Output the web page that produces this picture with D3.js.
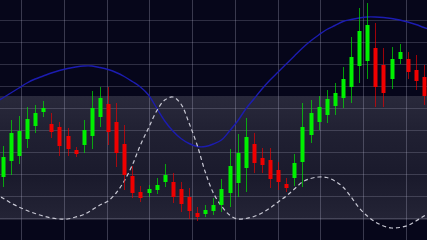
<!DOCTYPE html>
<html>
<head>
<meta charset="utf-8">
<script src="https://cdn.jsdelivr.net/npm/d3@7"></script>
<style>
  html, body { margin: 0; padding: 0; background: #06061a; overflow: hidden; }
  svg { display: block; }
</style>
</head>
<body>
<script>
// candle values: open / high / low / close
const opens  = [31.5, 39.5, 42, 50.5, 57, 64, 58, 56.5, 52, 45, 47.5, 52, 61.5, 68, 59, 48, 32, 24, 23.5, 25, 29, 29, 25.5, 21.5, 13.5, 13, 14.5, 17.5, 23.5, 28.5, 36, 48, 41, 40, 35, 28, 31, 39, 52.5, 59, 62.5, 67, 71, 76.5, 87, 89.5, 96, 87.5, 80.5, 90.5, 90.5, 85, 81.5]
const highs  = [47, 60, 62, 66.5, 67.5, 69.5, 63.5, 59, 56, 46.5, 60, 74.5, 76.5, 76.5, 68.5, 57.5, 37, 27, 27.5, 31, 38, 33.5, 29, 26, 16.5, 17.5, 21, 30.5, 45.5, 53, 61, 53.5, 46, 46, 39, 31, 43, 68.5, 70, 72, 75, 78.5, 86.5, 101.5, 116, 118.5, 108.5, 96, 96.5, 98, 94, 92.5, 87.5]
const lows   = [26.5, 32.5, 38, 46, 53.5, 61.5, 51, 42, 42, 41.5, 43.5, 45.5, 56.5, 47.5, 36.5, 25, 21, 19, 21.5, 23, 26.5, 18.5, 14, 10.5, 9.5, 11.5, 12.5, 14, 16.5, 21.5, 24, 33.5, 33.5, 26, 25, 24, 27, 26.5, 48.5, 55, 58.5, 62.5, 66, 68.5, 78.5, 80.5, 66.5, 66.5, 75.5, 88, 80.5, 75, 67.5]
const closes = [41.5, 53.5, 54.5, 60.5, 63.5, 66, 54, 47, 45.5, 43, 55, 66, 71, 54, 43.5, 32.5, 23.5, 21, 25.5, 27.5, 32.5, 21.5, 18, 14.5, 11.5, 15, 17.5, 25.5, 37, 43.5, 51.5, 38.5, 37.5, 30.5, 29, 26, 38.5, 56.5, 63.5, 66.5, 70.5, 73.5, 80.5, 91.5, 104.5, 107.5, 76.5, 73.5, 90.5, 94, 84, 79.5, 72]

// two smooth overlay lines, one value per candle slot, from slot -1 to slot 53
const blueLine = [68.5, 71, 73.5, 76, 78.5, 80.5, 82, 83.5, 84.75, 85.75, 86.5, 87, 87, 86.25, 85.25, 83.75, 81.75, 79.25, 76.5, 72.5, 66, 59.5, 54.5, 50.75, 48.25, 46.75, 46.75, 48, 50, 54.5, 59.5, 65.5, 70.5, 75.5, 80, 84, 88, 92, 96, 99.5, 102.5, 105.25, 107.25, 109.25, 110.25, 111, 111.5, 111.5, 111.25, 110.75, 110, 109, 107.75, 106.25, 105]
const dashLine = [23, 21, 18.5, 16.5, 14.75, 13.25, 12, 11, 10.5, 10.5, 11.5, 12.75, 15, 17.5, 19.5, 23.5, 29.5, 37.5, 47.5, 56, 64.5, 70, 71.5, 68, 58.5, 47.5, 34, 23.5, 17, 12.5, 10.5, 10.75, 11.75, 13.5, 16, 19, 22, 25.5, 29, 30.75, 31.5, 31.25, 29.5, 26.5, 21.5, 16, 12, 9, 7, 6, 6.25, 7.25, 9.5, 12, 14.5]

// shaded band and grid levels
const bandTop = 72, bandBottom = 10
const gridLevels = [11, 22, 33, 44, 55, 66, 77, 88, 99, 110]
const gridCols = d3.range(10)

const width = 427, height = 240

const svg = d3.select("body").append("svg")
    .attr("width", width)
    .attr("height", height)
const defs = svg.append("defs")

const xScale = d3.scaleLinear().domain([0, 52]).range([2.7, 424]),
    yScale = d3.scaleLinear().domain([0, 120]).range([240, 0]),
    colScale = d3.scaleBand().domain(gridCols).range([0, width])

// background
svg.append("rect").attr("width", width).attr("height", height).attr("fill", "#06061a")

// band gradient
const grad = defs.append("linearGradient").attr("id", "band")
    .attr("x1", 0).attr("y1", 0).attr("x2", 0).attr("y2", 1)
grad.append("stop").attr("offset", "0%").attr("stop-color", "#29293b")
grad.append("stop").attr("offset", "30%").attr("stop-color", "#202032")
grad.append("stop").attr("offset", "65%").attr("stop-color", "#1a1a2c")
grad.append("stop").attr("offset", "100%").attr("stop-color", "#242436")

svg.append("rect")
    .attr("x", 0).attr("width", width)
    .attr("y", yScale(bandTop))
    .attr("height", yScale(bandBottom) - yScale(bandTop))
    .attr("fill", "url(#band)")

// grid
svg.append("g").selectAll("line").data(gridLevels).enter().append("line")
    .attr("x1", 0).attr("x2", width)
    .attr("y1", d => Math.round(yScale(d)) + 0.5)
    .attr("y2", d => Math.round(yScale(d)) + 0.5)
    .attr("stroke", "rgba(190,190,215,0.22)")
    .attr("stroke-width", 1)

svg.append("g").selectAll("line").data(gridCols).enter().append("line")
    .attr("y1", 0).attr("y2", height)
    .attr("x1", d => Math.round(colScale(d) + colScale.bandwidth() / 2) + 0.5)
    .attr("x2", d => Math.round(colScale(d) + colScale.bandwidth() / 2) + 0.5)
    .attr("stroke", "rgba(190,190,215,0.28)")
    .attr("stroke-width", 1)

// overlay lines
const lineGen = d3.line()
    .x((d, i) => xScale(i - 1))
    .y(d => yScale(d))
    .curve(d3.curveCatmullRom)

svg.append("path")
    .attr("d", lineGen(blueLine))
    .attr("fill", "none")
    .attr("stroke", "#1c1cb0")
    .attr("stroke-width", 1.4)

svg.append("path")
    .attr("d", lineGen(dashLine))
    .attr("fill", "none")
    .attr("stroke", "#c8c8d4")
    .attr("stroke-width", 1.2)
    .attr("stroke-dasharray", "4,3")

// candles
const candles = opens.map((o, i) => ({ i: i, o: o, h: highs[i], l: lows[i], c: closes[i] }))
const bodyW = 4
const color = d => d.c >= d.o ? "#00f000" : "#f00000"

const g = svg.append("g").selectAll("g").data(candles).enter().append("g")

g.append("line")
    .attr("x1", d => Math.round(xScale(d.i)) + 0.5)
    .attr("x2", d => Math.round(xScale(d.i)) + 0.5)
    .attr("y1", d => yScale(d.h))
    .attr("y2", d => yScale(d.l))
    .attr("stroke", color)
    .attr("stroke-opacity", 0.65)
    .attr("stroke-width", 1)

g.append("rect")
    .attr("x", d => Math.round(xScale(d.i)) + 0.5 - bodyW / 2)
    .attr("width", bodyW)
    .attr("y", d => yScale(Math.max(d.o, d.c)))
    .attr("height", d => Math.max(1, Math.abs(yScale(d.o) - yScale(d.c))))
    .attr("fill", color)
</script>
</body>
</html>
